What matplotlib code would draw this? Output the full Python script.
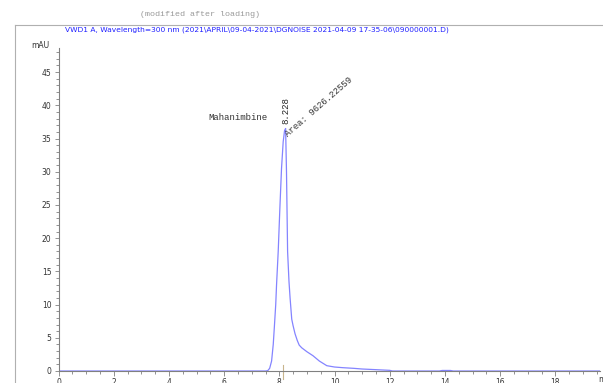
import numpy as np
import matplotlib
matplotlib.use('Agg')
from matplotlib import pyplot as plt
from matplotlib.ticker import MultipleLocator

# chromatogram trace (min, mAU)
time = [0.0, 7.5, 7.58, 7.65, 7.72, 7.78, 7.82, 7.87, 7.9, 7.96, 8.02, 8.08, 8.14, 8.19, 8.228,
        8.26, 8.3, 8.35, 8.39, 8.45, 8.5, 8.57, 8.65, 8.72, 8.81, 9.0, 9.22, 9.45, 9.72,
        10.0, 10.3, 10.7, 11.0, 11.5, 12.0, 12.1, 13.8, 13.9, 14.2, 14.3, 19.7]
signal = [0.0, 0.0, 0.05, 0.4, 1.5, 4.0, 6.6, 10.0, 13.0, 18.0, 24.5, 30.5, 34.5, 36.2, 36.5,
          30.0, 18.0, 13.5, 11.0, 7.8, 6.8, 5.6, 4.6, 3.9, 3.5, 2.9, 2.3, 1.5, 0.8,
          0.6, 0.5, 0.4, 0.3, 0.2, 0.1, 0.0, 0.0, 0.08, 0.08, 0.0, 0.0]

peak_rt = 8.228
peak_name = "Mahanimbine"
peak_area = "Area: 9626.22559"
title = "VWD1 A, Wavelength=300 nm (2021\\APRIL\\09-04-2021\\DGNOISE 2021-04-09 17-35-06\\090000001.D)"

fig = plt.figure(figsize=(6.03, 3.83), dpi=100)
ax = fig.add_axes([58.5/603, 12/383, 541/603, 323.5/383])

ax.plot(time, signal, color='#8484ff', lw=0.9)
ax.plot([8.13, 8.13], [-1.2, 0.9], color='#c8b48c', lw=0.8, clip_on=False)

ax.set_xlim(0, 19.6)
ax.set_ylim(0, 48.7)
ax.xaxis.set_major_locator(MultipleLocator(2))
ax.xaxis.set_minor_locator(MultipleLocator(0.5))
ax.yaxis.set_major_locator(MultipleLocator(5))
ax.yaxis.set_minor_locator(MultipleLocator(1))
for s in ['top', 'right']:
    ax.spines[s].set_visible(False)
for s in ['left', 'bottom']:
    ax.spines[s].set_color('#808080')
    ax.spines[s].set_linewidth(0.8)
ax.tick_params(which='both', colors='#808080', labelcolor='#333333', labelsize=5.5, width=0.6)
ax.tick_params(which='major', length=3, pad=2)
ax.tick_params(which='minor', length=2)
ax.tick_params(axis='x', which='major', length=3.5, pad=1.5)
ax.tick_params(axis='x', which='minor', length=2.5)

mono = ['Liberation Mono', 'DejaVu Sans Mono']

ax.text(peak_rt, 37.2, f"{peak_rt:.3f}", rotation=90, ha='center', va='bottom',
        fontsize=6.5, family=mono, color='#222222')
ax.text(peak_rt - 0.65, 38.2, peak_name, ha='right', va='center',
        fontsize=6.5, family=mono, color='#333333')
ax.text(peak_rt + 0.12, 35.0, peak_area, rotation=41, rotation_mode='anchor',
        ha='left', va='bottom', fontsize=6.5, family=mono, color='#333333')

fig.text(40/603, 1 - 45/383, "mAU", ha='center', va='center', fontsize=5.5, color='#333333')
fig.text(598/603, 1 - 380/383, "min", ha='left', va='center', fontsize=5.5, color='#333333')
fig.text(65/603, 1 - 30/383, title, ha='left', va='center', fontsize=5.4, color='#2020ff')
fig.text(200/603, 1 - 14/383, "(modified after loading)", ha='center', va='center',
         fontsize=6, family=mono, color='#999999')

# outer frame lines (left and top)
fig.add_artist(plt.Line2D([15/603, 15/603], [0, 1 - 25/383], transform=fig.transFigure,
                          color='#b0b0b0', lw=0.8))
fig.add_artist(plt.Line2D([15/603, 1], [1 - 25/383, 1 - 25/383], transform=fig.transFigure,
                          color='#b0b0b0', lw=0.8))

fig.savefig('out.png', dpi=100)
